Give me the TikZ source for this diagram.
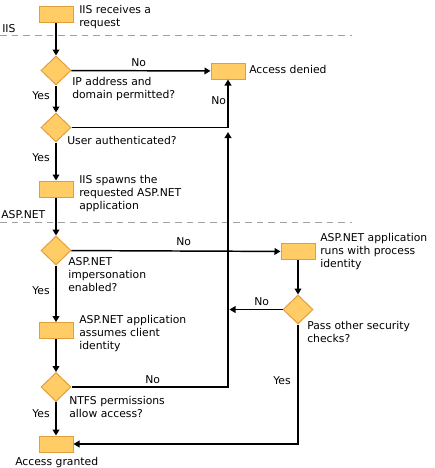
\documentclass[tikz,border=0pt]{standalone}
\usepackage{fontspec}
\setmainfont{DejaVu Sans}
\usetikzlibrary{shapes.geometric,arrows.meta}

\definecolor{boxfill}{RGB}{255,204,102}
\definecolor{boxedge}{RGB}{226,158,58}
\definecolor{laneline}{RGB}{160,160,160}

\tikzset{
  stepbox/.style={draw=boxedge,fill=boxfill,line width=0.75pt,minimum width=25.5pt,minimum height=12pt,inner sep=0pt},
  testbox/.style={diamond,draw=boxedge,fill=boxfill,line width=0.75pt,minimum width=22.5pt,minimum height=21.75pt,inner sep=0pt},
  flow/.style={line width=1.1pt,-{Triangle[length=4.5pt,width=5pt]}},
  lane/.style={draw=laneline,line width=0.75pt,dash pattern=on 5pt off 3.75pt},
  txt/.style={anchor=north west,inner sep=0pt,align=left,font=\fontsize{8.1}{9.75}\selectfont}
}

\begin{document}
\begin{tikzpicture}[x=0.75pt,y=0.75pt,yscale=-1,xscale=1]
\useasboundingbox (0,0) rectangle (435,468);
%Lane separators
\coordinate (iisL) at (0,35.5);
\coordinate (iisR) at (352,35.5);
\coordinate (aspL) at (0,222);
\coordinate (aspR) at (352,222);
\draw [lane] (iisL) -- (iisR);
\draw [lane] (aspL) -- (aspR);
%Steps
\node [stepbox] (recv) at (56,14.5) {};
\node [stepbox] (denied) at (228,71) {};
\node [stepbox] (spawn) at (56,189) {};
\node [stepbox] (process) at (298,251.5) {};
\node [stepbox] (assume) at (56,330.5) {};
\node [stepbox] (granted) at (56,444) {};
%Tests
\node [testbox] (ipchk) at (56,70.5) {};
\node [testbox] (auth) at (56,127.5) {};
\node [testbox] (imp) at (56,250.5) {};
\node [testbox] (pass) at (298,309.5) {};
\node [testbox] (ntfs) at (56,387) {};
%Junctions
\coordinate (up) at (228,132);
\coordinate (merge) at (229.5,309.5);
%Straight Lines
\draw [flow] (recv) -- (ipchk);
\draw [flow] (ipchk) -- (denied);
\draw [flow] (ipchk) -- (auth);
\draw [flow] (auth.east) -| (denied.south);
\draw [flow] (auth) -- (spawn);
\draw [flow] (spawn) -- (imp);
\draw [flow] (imp) -- (process);
\draw [flow] (imp) -- (assume);
\draw [flow] (assume) -- (ntfs);
\draw [flow] (ntfs) -- (granted);
\draw [flow] (process) -- (pass);
\draw [flow] (pass) -- (merge);
\draw [flow] (pass.south) |- (granted.east);
\draw [flow] (ntfs.east) -| (up);
% Text Node
\draw (79,5) node [txt] (recvtxt) {IIS receives a\\request};
% Text Node
\draw (2,24) node [txt] (iistxt) {IIS};
% Text Node
\draw (249,65) node [txt] (deniedtxt) {Access denied};
% Text Node
\draw (72,77) node [txt] (ipchktxt) {IP address and\\domain permitted?};
% Text Node
\draw (32,91.5) node [txt] (yes1) {Yes};
% Text Node
\draw (131,58) node [txt] (no1) {No};
% Text Node
\draw (211,96) node [txt] (no2) {No};
% Text Node
\draw (67,136.5) node [txt] (authtxt) {User authenticated?};
% Text Node
\draw (32,153.5) node [txt] (yes2) {Yes};
% Text Node
\draw (79,175) node [txt] (spawntxt) {IIS spawns the\\requested ASP.NET\\application};
% Text Node
\draw (1,210.5) node [txt] (asptxt) {ASP.NET};
% Text Node
\draw (176,237.5) node [txt] (no3) {No};
% Text Node
\draw (320,233.5) node [txt] (processtxt) {ASP.NET application\\runs with process\\identity};
% Text Node
\draw (68,257.5) node [txt] (imptxt) {ASP.NET\\impersonation\\enabled?};
% Text Node
\draw (32,286) node [txt] (yes3) {Yes};
% Text Node
\draw (79,315.5) node [txt] (assumetxt) {ASP.NET application\\assumes client\\identity};
% Text Node
\draw (254,297.5) node [txt] (no4) {No};
% Text Node
\draw (307,321.5) node [txt] (passtxt) {Pass other security\\checks?};
% Text Node
\draw (145,375) node [txt] (no5) {No};
% Text Node
\draw (273,376) node [txt] (yes4) {Yes};
% Text Node
\draw (69,396.5) node [txt] (ntfstxt) {NTFS permissions\\allow access?};
% Text Node
\draw (32,409) node [txt] (yes5) {Yes};
% Text Node
\draw (15,457) node [txt] (grantedtxt) {Access granted};
\end{tikzpicture}
\end{document}
